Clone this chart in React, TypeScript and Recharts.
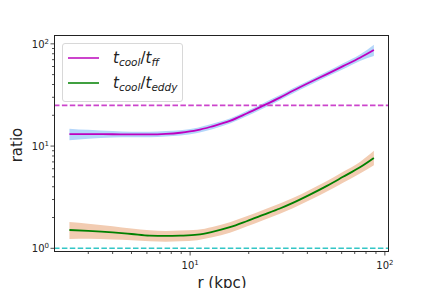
import { ComposedChart, Line, Area, XAxis, YAxis, ReferenceLine } from 'recharts';

const radius = [2.4, 3, 4, 5, 6.2, 7.5, 8.9, 10.9, 13, 16, 19.5, 23.7, 28.9, 33.7, 41, 50.4, 61, 74.5, 87.8];

const tffMedian = [13.1, 13.1, 13.05, 13.0, 13.0, 13.15, 13.5, 14.3, 15.6, 17.6, 20.8, 24.8, 29.8, 34.7, 41.8, 50.6, 60.5, 73, 87];
const tffLow = [11.4, 11.8, 12.1, 12.2, 12.2, 12.4, 12.7, 13.4, 14.6, 16.6, 19.6, 23.3, 28.1, 32.7, 39.4, 47.7, 56.5, 68.0, 76];
const tffHigh = [14.8, 14.4, 14.0, 13.8, 13.8, 14.0, 14.3, 15.1, 16.5, 18.6, 22.0, 26.3, 31.5, 36.7, 44.1, 53.6, 64.5, 78.5, 98];

const eddyMedian = [1.51, 1.48, 1.43, 1.38, 1.33, 1.32, 1.33, 1.36, 1.45, 1.61, 1.84, 2.12, 2.45, 2.78, 3.33, 4.08, 5.0, 6.2, 7.65];
const eddyLow = [1.23, 1.24, 1.22, 1.2, 1.17, 1.16, 1.17, 1.2, 1.28, 1.42, 1.63, 1.88, 2.18, 2.47, 2.95, 3.6, 4.38, 5.4, 6.5];
const eddyHigh = [1.81, 1.74, 1.64, 1.56, 1.5, 1.48, 1.49, 1.52, 1.62, 1.8, 2.06, 2.37, 2.74, 3.1, 3.72, 4.55, 5.6, 7.0, 9.0];

const xTicks = [3, 4, 5, 6, 7, 8, 9, 10, 20, 30, 40, 50, 60, 70, 80, 90, 100];
const yTicks = [1, 2, 3, 4, 5, 6, 7, 8, 9, 10, 20, 30, 40, 50, 60, 70, 80, 90, 100];

const data = radius.map((r, i) => ({
  r,
  tff: tffMedian[i],
  tffBand: [tffLow[i], tffHigh[i]],
  eddy: eddyMedian[i],
  eddyBand: [eddyLow[i], eddyHigh[i]],
}));

const font = 'DejaVu Sans';

function isMajor(v: number) {
  return Math.abs(Math.log10(v) - Math.round(Math.log10(v))) < 1e-6;
}

function XTick(props: any) {
  const { x, y, payload } = props;
  const v = payload.value;
  const major = isMajor(v);
  return (
    <g>
      <line x1={x} x2={x} y1={y} y2={y + (major ? 3.5 : 2)} stroke="#222" strokeWidth={0.8} />
      {major && (
        <text x={x} y={y + 17} textAnchor="middle" fontSize={10} fontFamily={font} fill="#222">
          10<tspan dy={-4} fontSize={7}>{Math.round(Math.log10(v))}</tspan>
        </text>
      )}
    </g>
  );
}

function YTick(props: any) {
  const { x, y, payload } = props;
  const v = payload.value;
  const major = isMajor(v);
  return (
    <g>
      <line x1={x} x2={x - (major ? 3.5 : 2)} y1={y} y2={y} stroke="#222" strokeWidth={0.8} />
      {major && (
        <text x={x - 5} y={y + 4} textAnchor="end" fontSize={10} fontFamily={font} fill="#222">
          10<tspan dy={-4} fontSize={7}>{Math.round(Math.log10(v))}</tspan>
        </text>
      )}
    </g>
  );
}

export default function App() {
  return (
    <div style={{ position: 'absolute', left: 0, top: 0, width: 432, height: 288, background: '#fff', overflow: 'hidden' }}>
      <ComposedChart width={432} height={288} data={data} margin={{ top: 35, right: 43, left: 0, bottom: 0 }}>
        <XAxis
          dataKey="r"
          type="number"
          scale="log"
          domain={[2.0, 105]}
          ticks={xTicks}
          allowDataOverflow
          axisLine={false}
          tickLine={false}
          tickSize={0}
          tickMargin={0}
          tick={<XTick />}
          height={36}
          interval={0}
        />
        <YAxis
          type="number"
          scale="log"
          domain={[0.92, 122]}
          ticks={yTicks}
          allowDataOverflow
          axisLine={false}
          tickLine={false}
          tickSize={0}
          tickMargin={0}
          tick={<YTick />}
          width={54}
          interval={0}
        />
        <Area dataKey="tffBand" stroke="none" fill="#b4d6fa" fillOpacity={1} isAnimationActive={false} type="monotone" />
        <Area dataKey="eddyBand" stroke="none" fill="#f2ccb2" fillOpacity={1} isAnimationActive={false} type="monotone" />
        <ReferenceLine y={25} stroke="#cc44cc" strokeWidth={1.6} strokeDasharray="5.5 2.4" />
        <ReferenceLine y={1} stroke="#33c6c6" strokeWidth={1.6} strokeDasharray="5.5 2.4" />
        <Line dataKey="tff" stroke="#bf00bf" strokeWidth={1.8} dot={false} type="monotone" isAnimationActive={false} />
        <Line dataKey="eddy" stroke="#008000" strokeWidth={1.8} dot={false} type="monotone" isAnimationActive={false} />
        <text x={17} y={145} transform="rotate(-90 17 145)" textAnchor="middle" dominantBaseline="central" fontSize={15} fontFamily={font} fill="#222">
          ratio
        </text>
        <text x={222} y={288} textAnchor="middle" fontSize={15} fontFamily={font} fill="#222">
          r (kpc)
        </text>
      </ComposedChart>
      <div style={{ position: 'absolute', left: 54, top: 35, width: 335, height: 217, border: '1px solid #222', boxSizing: 'border-box', pointerEvents: 'none' }} />
      <div
        style={{
          position: 'absolute', left: 62, top: 43, width: 121, height: 59, boxSizing: 'border-box',
          border: '1px solid #d8d8d8', borderRadius: 3, background: 'rgba(255,255,255,0.85)',
          fontFamily: font, color: '#222',
        }}
      >
        {[
          { color: '#cc44cc', sub2: 'ff' },
          { color: '#40a040', sub2: 'eddy' },
        ].map((row, i) => (
          <div key={i} style={{ position: 'absolute', left: 0, top: i === 0 ? 4 : 29, height: 22, width: '100%' }}>
            <div style={{ position: 'absolute', left: 5, top: 9, width: 31, height: 0, borderTop: `2px solid ${row.color}` }} />
            <div style={{ position: 'absolute', left: 50, top: 0, fontSize: 15, whiteSpace: 'nowrap', lineHeight: '20px' }}>
              <i>t</i><i style={{ fontSize: 10.5, position: 'relative', top: 3 }}>cool</i>/<i>t</i><i style={{ fontSize: 10.5, position: 'relative', top: 3 }}>{row.sub2}</i>
            </div>
          </div>
        ))}
      </div>
    </div>
  );
}
